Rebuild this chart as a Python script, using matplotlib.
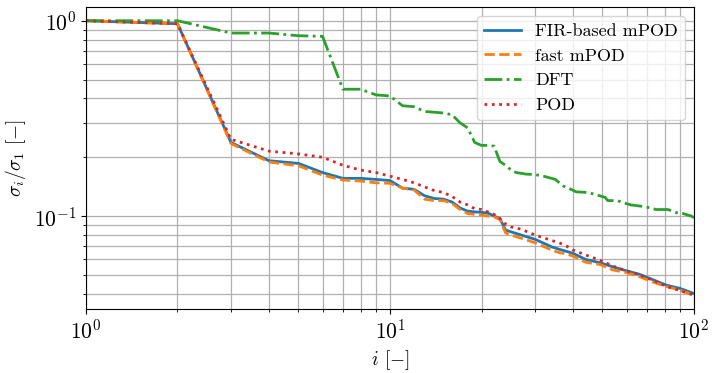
import matplotlib
matplotlib.use("Agg")
import matplotlib.pyplot as plt
from matplotlib.ticker import NullFormatter

# singular values normalised by the first one
modes = [1, 2, 3, 4, 5, 6, 7, 8, 9, 10, 11, 12, 13, 14, 15, 16, 17, 18, 19, 20,
         21, 22, 23, 24, 25, 27, 30, 34, 36, 38, 40, 44, 49, 54, 60, 66, 73, 81, 90, 100]
fir_mpod = [1.0, 0.965, 0.238, 0.192, 0.186, 0.167, 0.156, 0.156, 0.154, 0.152,
            0.139, 0.137, 0.127, 0.123, 0.122, 0.118, 0.110, 0.106, 0.105, 0.1045,
            0.1035, 0.100, 0.097, 0.0848, 0.083, 0.080, 0.076, 0.0696, 0.0676, 0.066,
            0.0644, 0.060, 0.0577, 0.055, 0.0524, 0.0504, 0.0473, 0.0443, 0.0426, 0.0401]
fast_mpod = [1.0, 0.965, 0.235, 0.189, 0.181, 0.162, 0.153, 0.151, 0.148, 0.147,
             0.139, 0.136, 0.122, 0.120, 0.120, 0.116, 0.108, 0.103, 0.102, 0.101,
             0.100, 0.099, 0.096, 0.082, 0.080, 0.077, 0.073, 0.067, 0.065, 0.064,
             0.0624, 0.058, 0.0565, 0.053, 0.0513, 0.049, 0.046, 0.0436, 0.0417, 0.0393]
pod = [1.0, 0.965, 0.247, 0.215, 0.208, 0.200, 0.182, 0.172, 0.167, 0.160,
       0.154, 0.148, 0.141, 0.135, 0.132, 0.126, 0.118, 0.114, 0.109, 0.108,
       0.105, 0.102, 0.097, 0.091, 0.088, 0.0856, 0.080, 0.075, 0.073, 0.0703,
       0.067, 0.0632, 0.0595, 0.0555, 0.0524, 0.050, 0.047, 0.0437, 0.0415, 0.0393]

dft_modes = [1, 2, 3, 4, 5, 6, 7, 8, 9, 10, 11, 12, 13, 14, 15, 16, 17, 18, 19, 20,
             21, 22, 23, 24, 25, 26, 28, 30, 32, 35, 37, 39, 41, 45, 48, 51, 52, 56,
             58, 62, 68, 72, 75, 82, 85, 89, 92, 98, 100]
dft = [1.0, 1.0, 0.865, 0.865, 0.838, 0.832, 0.446, 0.446, 0.417, 0.412,
       0.367, 0.363, 0.343, 0.340, 0.337, 0.330, 0.300, 0.283, 0.238, 0.230,
       0.230, 0.228, 0.190, 0.182, 0.172, 0.167, 0.164, 0.163, 0.160, 0.154,
       0.143, 0.138, 0.133, 0.132, 0.128, 0.1247, 0.120, 0.120, 0.1175, 0.114,
       0.112, 0.110, 0.108, 0.108, 0.106, 0.103, 0.103, 0.100, 0.098]

plt.rcParams["font.family"] = "serif"
plt.rcParams["font.serif"] = ["cmr10"]
plt.rcParams["mathtext.fontset"] = "cm"
plt.rcParams["axes.formatter.use_mathtext"] = True
plt.rcParams["axes.unicode_minus"] = True

fig = plt.figure(figsize=(7.14, 3.73), dpi=100)
ax = fig.add_axes([0.1204, 0.1716, 0.8516, 0.8096])

lw = 2.0
ax.plot(modes, fir_mpod, "-", color="tab:blue", lw=lw, label="FIR-based mPOD")
ax.plot(modes, fast_mpod, "--", color="tab:orange", lw=lw, label="fast mPOD")
ax.plot(dft_modes, dft, "-.", color="tab:green", lw=lw, label="DFT")
ax.plot(modes, pod, ":", color="tab:red", lw=lw, label="POD")

ax.set_xscale("log")
ax.set_yscale("log")
ax.set_xlim(1, 100)
ax.yaxis.set_minor_formatter(NullFormatter())
ax.xaxis.set_minor_formatter(NullFormatter())
ax.grid(True, which="both", color="#b0b0b0", lw=0.9)
ax.tick_params(labelsize=15.5)

ax.set_xlabel(r"$i$ [$-$]", fontsize=14)
ax.set_ylabel(r"$\sigma_i/\sigma_1$ [$-$]", fontsize=14)
ax.legend(loc="upper right", fontsize=13, framealpha=0.8)

fig.savefig("out.png", dpi=100)
